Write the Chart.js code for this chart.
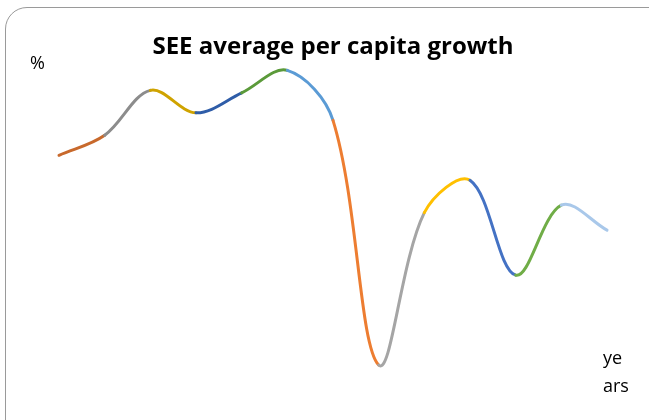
<!DOCTYPE html>
<html>
<head>
<meta charset="utf-8">
<script src="https://cdn.jsdelivr.net/npm/chart.js@4/dist/chart.umd.min.js"></script>
<style>
  html, body { margin: 0; padding: 0; background: #fff; overflow: hidden; }
  #wrap { position: relative; width: 649px; height: 420px; }
  #frame {
    position: absolute; left: 5px; top: 7px; width: 680px; height: 440px;
    border: 1px solid #9a9a9a; border-radius: 22px; box-sizing: border-box;
  }
  canvas { position: absolute; left: 0; top: 0; }
  .lbl { position: absolute; font-family: "Open Sans", "Noto Sans", sans-serif; font-size: 18px; color: #000; line-height: 28px; }
</style>
</head>
<body>
<div id="wrap">
  <div id="frame"></div>
  <canvas id="chart" width="649" height="420"></canvas>
  <div class="lbl" style="left:30px; top:48px;">%</div>
  <div class="lbl" style="left:603px; top:343px;">ye<br>ars</div>
</div>
<script>
// years (not shown on the chart)
const YEARS = ['2000', '2001', '2002', '2003', '2004', '2005', '2006', '2007', '2008', '2009', '2010', '2011', '2012'];
// average per capita growth, %
const GROWTH = [3.0, 3.8, 5.6, 4.7, 5.5, 6.4, 4.4, -5.4, 0.7, 2.0, -1.8, 1.0, 0.0];
// one colour per segment, like Excel's "vary colours by point"
const SEG_COLORS = ['#C8692C', '#8C8C8C', '#CFA300', '#2F5DA8', '#5B9A3A', '#5B9BD5',
                    '#ED7D31', '#A5A5A5', '#FFC000', '#4472C4', '#70AD47', '#A9C8EA'];

const ctx = document.getElementById('chart').getContext('2d');
new Chart(ctx, {
    type: 'line',
    data: {
        labels: YEARS,
        datasets: [{
            data: GROWTH,
            borderWidth: 3,
            tension: 0.35,
            pointRadius: 0,
            borderCapStyle: 'round',
            clip: false,
            segment: { borderColor: c => SEG_COLORS[c.p0DataIndex] }
        }]
    },
    options: {
        responsive: false,
        animation: false,
        layout: { padding: { left: 59, right: 42, top: 0, bottom: 40 } },
        scales: {
            x: { display: false, offset: false },
            y: { display: false, min: -6, max: 6.8 }
        },
        plugins: {
            legend: { display: false },
            tooltip: { enabled: false },
            title: {
                display: true,
                text: 'SEE average per capita growth',
                color: '#000',
                font: { family: 'Open Sans', size: 24, weight: 'bold', lineHeight: 1.1 },
                padding: { top: 34, bottom: 0 }
            }
        }
    }
});
</script>
</body>
</html>
